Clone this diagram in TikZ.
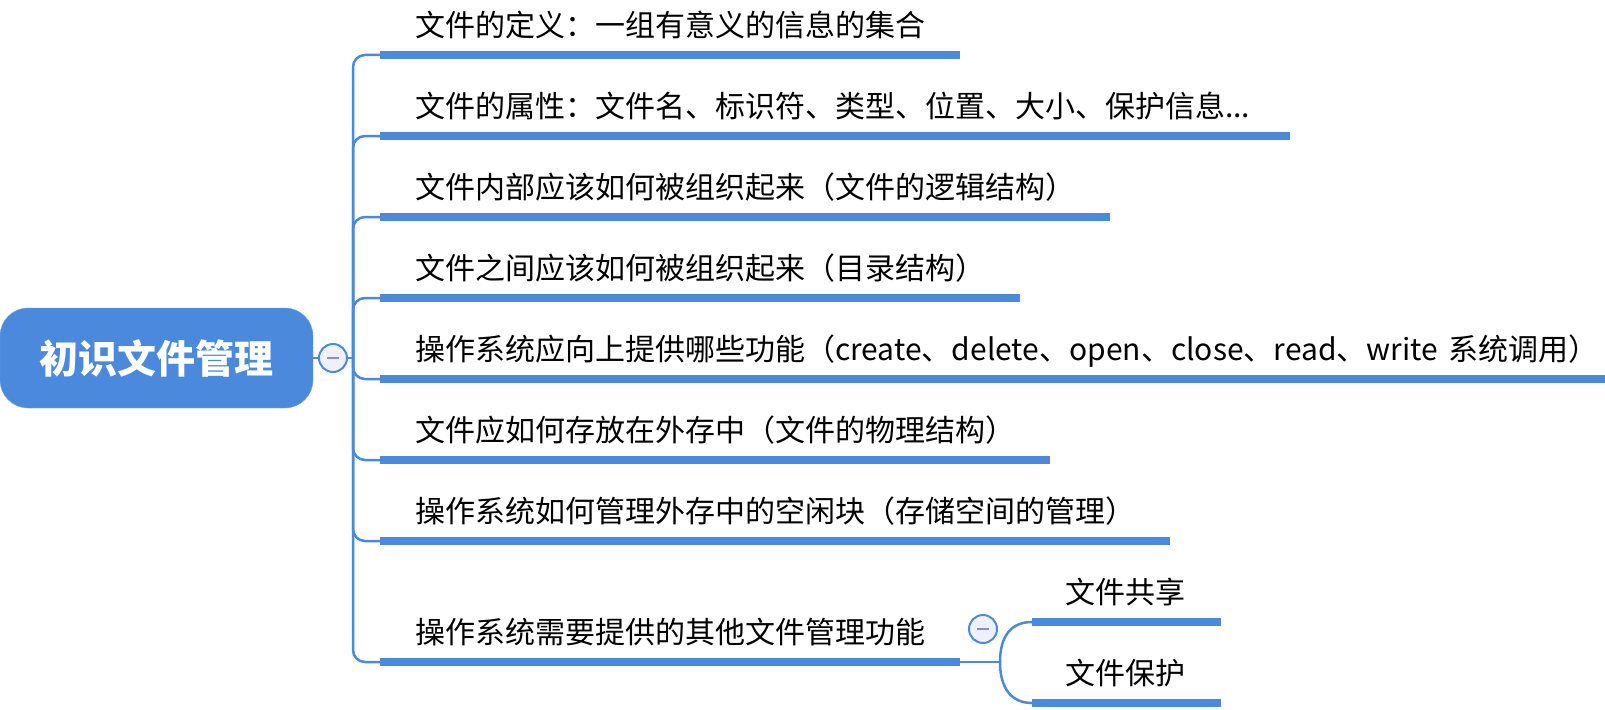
\documentclass[tikz,border=0pt]{standalone}
\usepackage{fontspec}
\newfontfamily\cjk{Noto Sans CJK SC}
\definecolor{mapblue}{HTML}{4A89DC}
\definecolor{foldfill}{HTML}{EEF0FA}
\definecolor{foldmark}{HTML}{8C8CC8}
\begin{document}
\begin{tikzpicture}[x=1pt, y=-1pt,
    root/.style={fill=mapblue, draw=mapblue!75!white, rounded corners=28pt,
      minimum width=313pt, minimum height=100pt, text=white,
      font=\cjk\bfseries\fontsize{39}{44}\selectfont},
    topic/.style={anchor=south west, inner xsep=35pt, inner ysep=18pt,
      text depth=0pt, align=left, font=\cjk\fontsize{30}{36}\selectfont},
    subtopic/.style={topic, inner xsep=33pt},
    uline/.style={draw=mapblue, line width=8pt},
    link/.style={draw=mapblue, line width=2.5pt, rounded corners=12pt},
    fold/.style={circle, draw=mapblue, line width=2pt, fill=foldfill,
      minimum size=28pt, inner sep=0pt,
      path picture={\draw[foldmark, line width=2pt]
        ([xshift=-6pt]path picture bounding box.center) --
        ([xshift=6pt]path picture bounding box.center);}}]
  \useasboundingbox (0,0) rectangle (1605,709);
  % centre topic
  \node[root] (root) at (156.5,358) {初识文件管理};
  \node[fold] (c0) at (333,358) {};
  \coordinate (trunk) at (353,358);
  % topics
  \node[topic, text width=510pt] (b1) at (380,55) {文件的定义：一组有意义的信息的集合};
  \node[topic, text width=840pt] (b2) at (380,136) {文件的属性：文件名、标识符、类型、位置、大小、保护信息...};
  \node[topic, text width=660pt] (b3) at (380,217) {文件内部应该如何被组织起来（文件的逻辑结构）};
  \node[topic, text width=570pt] (b4) at (380,298) {文件之间应该如何被组织起来（目录结构）};
  \node[topic, text width=1155pt] (b5) at (380,379) {\mbox{操作系统应向上提供哪些功能（create、delete、open、close、read、write 系统调用）}};
  \node[topic, text width=600pt] (b6) at (380,460) {文件应如何存放在外存中（文件的物理结构）};
  \node[topic, text width=720pt] (b7) at (380,541) {操作系统如何管理外存中的空闲块（存储空间的管理）};
  \node[topic, text width=510pt] (b8) at (380,662) {操作系统需要提供的其他文件管理功能};
  % subtopics
  \node[fold] (c8) at (983,629) {};
  \coordinate (fork) at (1000,662);
  \node[subtopic, text width=123pt] (s1) at (1032,622) {文件共享};
  \node[subtopic, text width=123pt] (s2) at (1032,703) {文件保护};
  \begin{scope}[uline]
    \draw (b1.south west) -- (b1.south east);
    \draw (b2.south west) -- (b2.south east);
    \draw (b3.south west) -- (b3.south east);
    \draw (b4.south west) -- (b4.south east);
    \draw (b5.south west) -- (b5.south east);
    \draw (b6.south west) -- (b6.south east);
    \draw (b7.south west) -- (b7.south east);
    \draw (b8.south west) -- (b8.south east);
    \draw (s1.south west) -- (s1.south east);
    \draw (s2.south west) -- (s2.south east);
  \end{scope}
  \begin{scope}[link]
    \draw (root.east) -- (c0.west);
    \draw (c0.east) -- (trunk);
    \draw (trunk) |- (b1.south west);
    \draw (trunk) |- (b2.south west);
    \draw (trunk) |- (b3.south west);
    \draw (trunk) |- (b4.south west);
    \draw (trunk) |- (b5.south west);
    \draw (trunk) |- (b6.south west);
    \draw (trunk) |- (b7.south west);
    \draw (trunk) |- (b8.south west);
    \draw (b8.south east) -- (fork);
    \draw (fork) .. controls (1000,635) and (1012,622) .. (s1.south west);
    \draw (fork) .. controls (1000,689) and (1012,703) .. (s2.south west);
  \end{scope}
\end{tikzpicture}
\end{document}
